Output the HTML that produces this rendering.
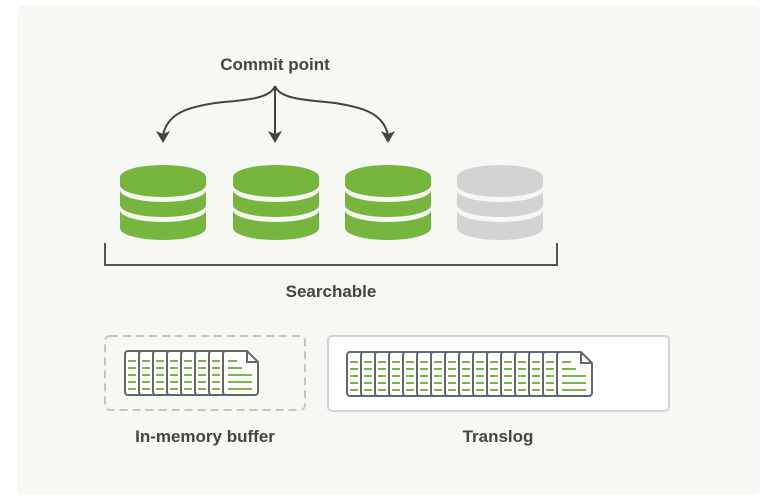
<!DOCTYPE html>
<html><head><meta charset="utf-8"><style>
html,body{margin:0;padding:0;background:#fff;width:772px;height:503px;overflow:hidden}
svg text{font-family:"Liberation Sans",sans-serif;font-weight:bold;fill:#444}
</style></head><body>
<svg width="772" height="503" viewBox="0 0 772 503" xmlns="http://www.w3.org/2000/svg">
<defs>
<g id="cyl">
<path d="M-43,-63 a43,12 0 0 1 86,0 V-55 a43,12 0 0 1 -86,0 z"/>
<path d="M-43,-50 a43,12 0 0 0 86,0 V-35 a43,12 0 0 1 -86,0 z"/>
<path d="M-43,-30 a43,12 0 0 0 86,0 V-12 a43,12 0 0 1 -86,0 z"/>
</g>
<g id="pg">
<rect x="0" y="0" width="35" height="44" rx="3" fill="#fff" stroke="#666" stroke-width="2"/>
<g stroke="#7ab648" stroke-width="2">
<line x1="3" y1="10" x2="11" y2="10"/><line x1="3" y1="17" x2="11" y2="17"/><line x1="3" y1="24" x2="11" y2="24"/><line x1="3" y1="31" x2="11" y2="31"/><line x1="3" y1="38" x2="11" y2="38"/>
</g>
</g>
<g id="last">
<path d="M3,0 H24 L35,11 V41 a3,3 0 0 1 -3,3 H3 a3,3 0 0 1 -3,-3 V3 a3,3 0 0 1 3,-3z" fill="#fff" stroke="#666" stroke-width="2"/>
<path d="M24,0 V11 H35" fill="none" stroke="#666" stroke-width="2"/>
<g stroke="#7ab648" stroke-width="2">
<line x1="5" y1="10" x2="14" y2="10"/><line x1="5" y1="17" x2="19" y2="17"/><line x1="5" y1="24" x2="29" y2="24"/><line x1="5" y1="31" x2="29" y2="31"/><line x1="5" y1="38" x2="29" y2="38"/>
</g>
</g>
</defs>
<rect x="17" y="6" width="743" height="489" rx="6" fill="#f6f8f4"/>
<text x="275" y="70" font-size="17" text-anchor="middle">Commit point</text>
<g fill="none" stroke="#444" stroke-width="2">
<path d="M275,86 C270,100 240,100 215,103 C190,107 168,112 163,135"/>
<path d="M275,86 C280,100 310,100 335,103 C360,107 383,112 388,135"/>
<line x1="275" y1="86" x2="275" y2="135"/>
</g>
<g fill="#444">
<path d="M156,131 L163,143 L170,131 L163,134z"/>
<path d="M268,131 L275,143 L282,131 L275,134z"/>
<path d="M381,131 L388,143 L395,131 L388,134z"/>
</g>
<g fill="#76b53e">
<use href="#cyl" x="163" y="240"/><use href="#cyl" x="276" y="240"/><use href="#cyl" x="388" y="240"/>
</g>
<g fill="#d3d3d3"><use href="#cyl" x="500" y="240"/></g>
<path d="M105,243 V265 H557 V243" fill="none" stroke="#555" stroke-width="2"/>
<text x="331" y="297" font-size="17" text-anchor="middle">Searchable</text>
<rect x="105" y="336" width="200" height="74" rx="5" fill="none" stroke="#c4c4c4" stroke-width="2" stroke-dasharray="8,5"/>
<rect x="328" y="336" width="341" height="75" rx="4" fill="#fff" stroke="#d3d3d3" stroke-width="2"/>
<g>
<use href="#pg" x="125" y="351"/><use href="#pg" x="139" y="351"/><use href="#pg" x="153" y="351"/><use href="#pg" x="167" y="351"/><use href="#pg" x="181" y="351"/><use href="#pg" x="195" y="351"/><use href="#pg" x="209" y="351"/><use href="#last" x="223" y="351"/>
</g>
<g>
<use href="#pg" x="347" y="352"/><use href="#pg" x="361" y="352"/><use href="#pg" x="375" y="352"/><use href="#pg" x="389" y="352"/><use href="#pg" x="403" y="352"/><use href="#pg" x="417" y="352"/><use href="#pg" x="431" y="352"/><use href="#pg" x="445" y="352"/><use href="#pg" x="459" y="352"/><use href="#pg" x="473" y="352"/><use href="#pg" x="487" y="352"/><use href="#pg" x="501" y="352"/><use href="#pg" x="515" y="352"/><use href="#pg" x="529" y="352"/><use href="#pg" x="543" y="352"/><use href="#last" x="557" y="352"/>
</g>
<text x="205" y="442" font-size="17" text-anchor="middle">In-memory buffer</text>
<text x="498" y="442" font-size="17" text-anchor="middle">Translog</text>
</svg>
</body></html>
